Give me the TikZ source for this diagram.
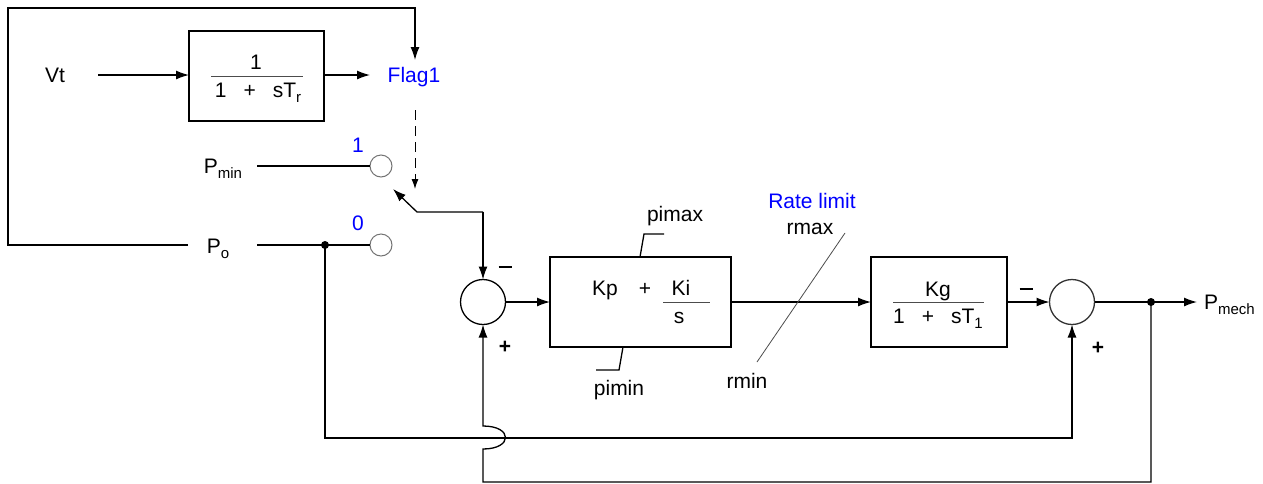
\documentclass[tikz,border=0pt]{standalone}
\usepackage{fontspec}
\setmainfont{Liberation Sans}
\usetikzlibrary{arrows.meta}
\newcommand\sbs[1]{\raisebox{-5pt}{\fontsize{15}{15}\selectfont #1}}
\newcommand\bminus{\rule[0pt]{13pt}{2.4pt}}
\begin{document}
\begin{tikzpicture}[x=1pt,y=-1pt,line width=1.3pt,
  every node/.style={font=\fontsize{21}{25}\selectfont,inner sep=0pt,outer sep=0pt},
  txt/.style={anchor=base},
  blk/.style={draw,rectangle,line width=1.3pt,minimum height=90pt},
  sumc/.style={draw,circle,minimum size=45pt,line width=1.3pt},
  swc/.style={draw=black!55,circle,minimum size=22pt,line width=1pt,fill=white},
  arr/.style={-{Latex[length=13pt,width=9pt]}},
  darr/.style={-{Latex[length=10pt,width=7pt]},dash pattern=on 10pt off 6pt,line width=1pt},
  bar/.style={line width=1pt,black!70},
  lim/.style={line width=1.3pt},
  sgn/.style={font=\fontsize{21}{25}\selectfont\bfseries},
  blue/.style={text=blue}]
\useasboundingbox (0,0) rectangle (1263,483);

% blocks
\node[blk,minimum width=135pt] (tr) at (256.5,76) {};
\node[blk,minimum width=181pt] (pi) at (640.5,302) {};
\node[blk,minimum width=136pt] (kg) at (939,302) {};
\node[sumc] (s1) at (483,302) {};
\node[sumc,draw=black!80] (s2) at (1072,302) {};
\node[swc] (c1) at (381,166) {};
\node[swc] (c0) at (381,245) {};

% block contents
\node[txt] (trn) at (256,69) {1};
\draw[bar] (211,76) -- (303,76);
\node[txt] (trd) at (258,97) {1\hspace{17pt}+\hspace{17pt}sT\sbs{r}};
\node[txt] (kp) at (605,295) {Kp};
\node[txt] (pl) at (645,295) {+};
\node[txt] (ki) at (681,295) {Ki};
\draw[bar] (663,302) -- (710,302);
\node[txt] (ss) at (679,323) {s};
\node[txt] (kgn) at (938,296) {Kg};
\draw[bar] (893,302) -- (984,302);
\node[txt] (kgd) at (938,323) {1\hspace{17pt}+\hspace{17pt}sT\sbs{1}};

% labels
\node[txt] (vt) at (55,82) {Vt};
\node[txt,blue] (flag) at (414,82) {Flag1};
\node[txt] (pmin) at (223,173) {P\sbs{min}};
\node[txt] (po) at (218,253) {P\sbs{o}};
\node[txt,blue] (one) at (358,152) {1};
\node[txt,blue] (zero) at (358,230) {0};
\node[txt] (pimax) at (675,221) {pimax};
\node[txt] (pimin) at (619,395) {pimin};
\node[txt,blue] (rl) at (812,208) {Rate limit};
\node[txt] (rmax) at (810,234) {rmax};
\node[txt] (rmin) at (747,388) {rmin};
\node (m1) at (505,267) {\bminus};
\node[sgn] (p1) at (505,347) {+};
\node (m2) at (1026,289) {\bminus};
\node[sgn] (p2) at (1098,348) {+};
\node[anchor=base west] (pmech) at (1204,309) {P\sbs{mech}};

% coordinates
\coordinate (vtE) at (98,75);
\coordinate (trE) at (tr.east|-vtE);
\coordinate (flagW) at (370,75);
\coordinate (loopL) at (188,245);
\coordinate (loopA) at (8,245);
\coordinate (loopB) at (8,8);
\coordinate (loopC) at (415,8);
\coordinate (flagN) at (415,60);
\coordinate (dashS) at (415,110);
\coordinate (dashE) at (415,189);
\coordinate (pminE) at (257,166);
\coordinate (poE) at (257,245);
\coordinate (dotA) at (325,245);
\coordinate (swJ) at (483,212);
\coordinate (swK) at (417,212);
\coordinate (swT) at (393,189);
\coordinate (fbA) at (325,438);
\coordinate (fbB) at (1072,438);
\coordinate (dotB) at (1151,302);
\coordinate (outE) at (1197,302);
\coordinate (fcA) at (1151,482);
\coordinate (fcB) at (483,482);
\coordinate (hopL) at (483,449);
\coordinate (hopU) at (483,426);

% connectors
\draw[arr] (vtE) -- (tr.west|-vtE);
\draw[arr] (trE) -- (flagW);
\draw[arr] (loopL) -- (loopA) -- (loopB) -- (loopC) -- (flagN);
\draw[darr] (dashS) -- (dashE);
\draw (pminE) -- (c1.west);
\draw (poE) -- (c0.west);
\draw[arr] (swJ) -- (s1.north);
\draw[arr] (swJ) -- (swK) -- (swT);
\draw[arr] (s1.east) -- (pi.west);
\draw[arr] (pi.east) -- (kg.west);
\draw[arr] (kg.east) -- (s2.west);
\draw[arr] (s2.east) -- (outE);
\draw[arr] (dotA) -- (fbA) -- (fbB) -- (s2.south);
\draw[arr] (dotB) -- (fcA) -- (fcB) -- (hopL) .. controls (513,449) and (513,426) .. (hopU) -- (s1.south);
\fill (dotA) circle (4pt);
\fill (dotB) circle (4pt);

% limit marks
\draw[lim] (pi.north-|640,0) -- (644,234) -- (664,234);
\draw[lim] (pi.south-|623,0) -- (619,370) -- (596,370);
\draw[line width=0.8pt,black!70] (845,233) -- (757,362);
\end{tikzpicture}
\end{document}
